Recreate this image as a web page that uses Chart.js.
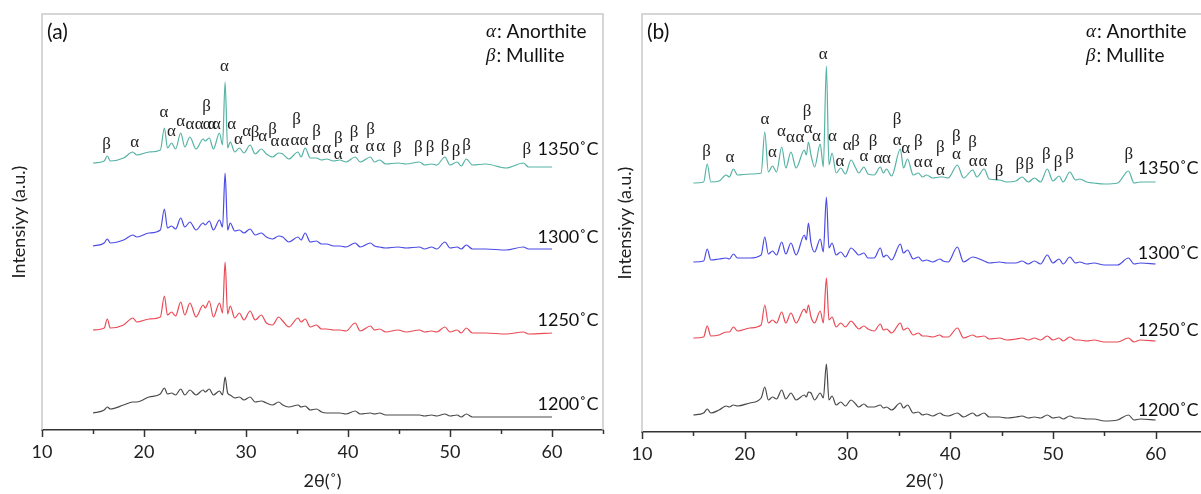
<!DOCTYPE html>
<html>
<head>
<meta charset="utf-8">
<script src="https://cdn.jsdelivr.net/npm/chart.js@4.4.1/dist/chart.umd.min.js"></script>
<style>
  html, body { margin: 0; padding: 0; background: #fff; overflow: hidden; }
  body { width: 1201px; height: 494px; position: relative; }
  canvas { position: absolute; top: 0; }
  #chartA { left: 0; }
  #chartB { left: 606px; }
</style>
</head>
<body>
<canvas id="chartA" width="614" height="494"></canvas>
<canvas id="chartB" width="612" height="494"></canvas>
<script>
// ---- data ----
const tempLabels = ["1350˚C", "1300˚C", "1250˚C", "1200˚C"];
const traceColors = ["#55b3a5", "#4b4be6", "#ea4a55", "#4a4a4a"];

// panel (a)
const thetaA = [15.0, 16.1, 16.4, 16.7, 18.0, 18.9, 19.3, 20.5, 21.6, 22.0,
  22.3, 22.7, 23.1, 23.6, 24.0, 24.5, 25.1, 25.8, 26.0, 26.4,
  26.8, 27.4, 27.7, 27.95, 28.2, 28.45, 28.9, 29.35, 29.8, 30.4,
  30.9, 31.5, 32.0, 32.6, 33.2, 33.6, 34.2, 35.1, 35.4, 35.8,
  36.3, 36.9, 37.4, 37.9, 38.6, 39.2, 39.8, 40.7, 41.2, 42.2,
  42.6, 43.1, 43.7, 44.9, 45.7, 47.0, 47.5, 48.2, 48.7, 49.5,
  50.0, 50.7, 51.1, 51.6, 52.2, 53.5, 55.5, 57.2, 57.7, 60.0];
const a1350 = [267, 269, 274, 269, 272, 278, 275, 278, 280, 302,
  282, 287, 281, 297, 283, 293, 281, 291, 289, 292,
  281, 297, 285, 348, 282, 288, 278, 282, 277, 285,
  276, 281, 276, 273, 277, 276, 271, 278, 273, 282,
  272, 272, 270, 271, 269, 270, 268, 273, 268, 273,
  268, 270, 266, 267, 266, 268, 265, 266, 265, 273,
  265, 268, 264, 271, 265, 266, 262, 267, 263, 263];
const a1300 = [184, 187, 191, 187, 190, 195, 193, 197, 200, 221,
  202, 204, 201, 212, 203, 208, 200, 207, 205, 209,
  200, 210, 203, 257, 200, 207, 199, 200, 197, 201,
  195, 197, 193, 191, 194, 193, 188, 193, 190, 197,
  188, 189, 186, 186, 184, 184, 183, 187, 183, 187,
  184, 183, 182, 183, 182, 183, 181, 183, 181, 188,
  182, 183, 181, 185, 181, 181, 180, 183, 181, 181];
const a1250 = [100, 102, 111, 102, 105, 112, 108, 111, 113, 134,
  115, 118, 114, 128, 115, 127, 113, 125, 122, 129,
  113, 127, 117, 168, 116, 124, 112, 117, 110, 119,
  110, 115, 107, 105, 113, 109, 103, 112, 108, 111,
  103, 105, 101, 101, 100, 100, 99, 107, 99, 104,
  100, 101, 98, 100, 98, 100, 98, 99, 98, 103,
  98, 100, 97, 102, 97, 97, 96, 98, 96, 97];
const a1200 = [17, 20, 23, 21, 25, 28, 28, 33, 36, 42,
  36, 37, 35, 41, 35, 40, 35, 40, 38, 41,
  35, 39, 35, 53, 37, 35, 32, 33, 30, 33,
  28, 29, 27, 25, 28, 25, 23, 25, 23, 24,
  20, 21, 18, 17, 17, 17, 16, 19, 16, 17,
  16, 17, 15, 15, 15, 15, 14, 15, 14, 16,
  14, 15, 13, 16, 13, 13, 13, 13, 13, 13];

// panel (b)
const thetaB = [15.0, 16.0, 16.35, 16.7, 17.5, 18.2, 18.5, 18.9, 19.3, 20.5,
  21.6, 21.95, 22.3, 22.7, 23.1, 23.6, 24.0, 24.5, 25.0, 25.8,
  26.0, 26.2, 26.45, 26.8, 27.35, 27.65, 27.95, 28.2, 28.5, 28.9,
  29.35, 29.8, 30.35, 30.8, 31.1, 31.6, 32.0, 32.6, 33.2, 33.5,
  33.8, 34.3, 35.15, 35.45, 35.85, 36.4, 36.9, 37.3, 37.7, 38.3,
  39.0, 39.3, 39.8, 40.7, 41.3, 42.2, 42.6, 43.3, 43.8, 44.8,
  45.5, 46.4, 47.0, 47.6, 48.2, 48.8, 49.45, 50.0, 50.6, 51.0,
  51.65, 52.2, 52.6, 53.3, 54.0, 55.0, 56.3, 57.35, 57.9, 58.5, 60.0];
const b1350 = [249, 250, 268, 250, 251, 257, 255, 263, 257, 258,
  259, 300, 260, 266, 260, 285, 264, 280, 264, 282,
  277, 290, 277, 265, 288, 265, 366, 267, 279, 259,
  264, 258, 272, 264, 259, 265, 258, 257, 265, 259,
  263, 256, 283, 264, 273, 257, 259, 255, 257, 254,
  255, 255, 254, 267, 254, 262, 255, 263, 253, 252,
  250, 251, 255, 250, 254, 250, 263, 251, 256, 250,
  260, 252, 253, 250, 249, 248, 249, 261, 249, 250, 250];
const b1300 = [170, 171, 183, 172, 173, 174, 173, 178, 174, 174,
  177, 195, 178, 181, 177, 190, 178, 189, 177, 197,
  192, 209, 189, 180, 193, 180, 235, 184, 189, 177,
  180, 175, 184, 180, 177, 179, 174, 174, 184, 175,
  177, 172, 188, 179, 182, 173, 175, 171, 172, 170,
  173, 171, 170, 185, 170, 175, 174, 171, 169, 170,
  169, 169, 171, 168, 171, 168, 177, 169, 173, 168,
  175, 169, 170, 168, 169, 167, 167, 174, 168, 169, 168];
const b1250 = [94, 95, 106, 96, 97, 100, 100, 105, 101, 104,
  107, 127, 109, 112, 109, 120, 109, 119, 109, 123,
  119, 127, 115, 109, 121, 109, 154, 112, 115, 105,
  109, 105, 111, 106, 103, 106, 103, 101, 108, 102,
  103, 99, 109, 102, 104, 97, 99, 96, 96, 95,
  97, 95, 95, 104, 94, 97, 95, 96, 93, 94,
  92, 93, 94, 92, 94, 92, 96, 92, 94, 91,
  95, 92, 92, 91, 92, 90, 90, 94, 90, 92, 91];
const b1200 = [17, 19, 23, 19, 22, 26, 25, 27, 26, 29,
  34, 45, 32, 35, 33, 42, 33, 39, 32, 37,
  35, 40, 39, 32, 39, 34, 68, 32, 36, 27,
  30, 26, 32, 28, 25, 28, 25, 25, 27, 24,
  25, 22, 29, 24, 27, 19, 20, 17, 18, 16,
  19, 17, 16, 19, 15, 19, 16, 19, 15, 15,
  14, 15, 16, 14, 15, 14, 17, 14, 15, 13,
  16, 14, 14, 13, 13, 11, 12, 17, 12, 13, 12];

// phase marks [2θ, height, symbol]
const marksA = [[16.34, 285, "β"], [19.1, 287, "α"], [21.96, 317, "α"], [22.7, 298, "α"],
  [23.6, 308, "α"], [24.5, 305, "α"], [25.4, 305, "α"], [26.2, 305, "α"], [26.65, 305, "α"], [27.1, 305, "α"],
  [26.14, 323, "β"], [27.88, 363, "α"], [28.6, 305, "α"], [29.25, 290, "α"], [30.07, 298, "α"],
  [30.88, 297, "β"], [31.63, 293, "α"], [32.6, 300, "β"], [32.84, 288, "α"], [33.82, 288, "α"],
  [34.97, 310, "β"], [34.8, 289, "α"], [35.69, 289, "α"], [36.93, 298, "β"], [36.9, 281, "α"],
  [37.9, 281, "α"], [39.05, 291, "β"], [39.05, 275, "α"], [40.59, 297, "β"], [40.6, 281, "α"],
  [42.22, 300, "β"], [42.16, 283, "α"], [43.2, 283, "α"], [44.84, 281, "β"], [46.9, 282, "β"],
  [48.04, 282, "β"], [49.51, 283, "β"], [50.59, 278, "β"], [51.63, 284, "β"], [57.52, 280, "β"]];
const marksB = [[16.29, 280, "β"], [18.56, 274, "α"], [21.96, 312, "α"], [22.71, 279, "α"],
  [23.58, 300, "α"], [24.46, 294, "α"], [25.37, 294, "α"], [26.08, 320, "β"], [26.18, 303, "α"],
  [26.99, 295, "α"], [27.64, 377, "α"], [28.55, 295, "α"], [29.26, 270, "α"], [29.97, 286, "α"],
  [30.78, 290, "β"], [31.6, 275, "α"], [32.5, 290, "β"], [32.99, 273, "α"], [33.8, 273, "α"],
  [34.84, 312, "β"], [34.84, 291, "α"], [35.68, 283, "α"], [36.9, 290, "β"], [36.88, 269, "α"],
  [37.85, 269, "α"], [39.05, 284, "β"], [39.05, 261, "α"], [40.6, 295, "β"], [40.6, 277, "α"],
  [42.17, 289, "β"], [42.23, 270, "α"], [43.2, 270, "α"], [44.76, 260, "β"], [46.77, 267, "β"],
  [47.74, 267, "β"], [49.36, 277, "β"], [50.5, 269, "β"], [51.63, 277, "β"], [57.4, 277, "β"]];

// where each temperature tag sits [2θ, height]
const tagPosA = [[58.58, 281], [58.58, 193], [58.58, 110], [58.58, 26]];
const tagPosB = [[58.25, 264], [58.25, 179], [58.25, 102], [58.25, 22]];

const SANS = "Lato, 'Open Sans', sans-serif";

function panelPlugin(cfg) {
  return {
    id: "panelDeco" + cfg.letter,
    afterDraw(chart) {
      const ctx = chart.ctx;
      const area = chart.chartArea;
      const xs = chart.scales.x;
      const ys = chart.scales.y;
      ctx.save();

      // light frame
      ctx.strokeStyle = "#c9c9c9";
      ctx.lineWidth = 1.5;
      ctx.beginPath();
      ctx.moveTo(area.left, area.bottom);
      ctx.lineTo(area.left, area.top);
      ctx.lineTo(area.right, area.top);
      ctx.lineTo(area.right, area.bottom);
      ctx.stroke();

      // tick marks, long every 10, short every 5
      ctx.strokeStyle = "#333";
      ctx.lineWidth = 1.5;
      xs.ticks.forEach(t => {
        const px = Math.round(xs.getPixelForValue(t.value)) + 0.5;
        const len = t.value % 10 === 0 ? 7 : 4;
        ctx.beginPath();
        ctx.moveTo(px, area.bottom);
        ctx.lineTo(px, area.bottom + len);
        ctx.stroke();
      });

      // phase marks
      ctx.fillStyle = "#222";
      ctx.font = "17px 'Liberation Serif', serif";
      ctx.textAlign = "center";
      ctx.textBaseline = "middle";
      cfg.marks.forEach(m => {
        ctx.fillText(m[2], xs.getPixelForValue(m[0]), ys.getPixelForValue(m[1]));
      });

      // temperature tags
      ctx.fillStyle = "#111";
      ctx.font = "18px " + SANS;
      ctx.textAlign = "left";
      cfg.tags.forEach((p, i) => {
        ctx.fillText(tempLabels[i], xs.getPixelForValue(p[0]), ys.getPixelForValue(p[1]));
      });

      // panel letter
      ctx.font = "21px " + SANS;
      ctx.fillText("(" + cfg.letter + ")", area.left + 5, 32);

      // phase key
      const kx = cfg.keyX;
      [["α", ": Anorthite", 32], ["β", ": Mullite", 56]].forEach(k => {
        ctx.font = "italic 19px 'Liberation Serif', serif";
        ctx.fillText(k[0], kx, k[2]);
        const w = ctx.measureText(k[0]).width;
        ctx.font = "19px " + SANS;
        ctx.fillText(k[1], kx + w + 1, k[2]);
      });
      ctx.restore();
    }
  };
}

function makePanel(id, cfg) {
  const datasets = cfg.series.map((ys, i) => ({
    label: tempLabels[i],
    data: ys.map((y, k) => ({ x: cfg.theta[k], y: y })),
    borderColor: traceColors[i],
    borderWidth: 1.2,
    pointRadius: 0,
    cubicInterpolationMode: "monotone",
    fill: false
  }));

  return new Chart(document.getElementById(id), {
    type: "line",
    data: { datasets },
    options: {
      responsive: false,
      animation: false,
      layout: { padding: { left: 0, top: 14, right: cfg.padRight, bottom: 0 } },
      plugins: { legend: { display: false }, tooltip: { enabled: false } },
      scales: {
        x: {
          type: "linear",
          min: 10,
          max: 65,
          afterFit: s => { s.height = cfg.axisH; },
          ticks: {
            stepSize: 5,
            autoSkip: false,
            maxRotation: 0,
            padding: 11,
            color: "#222",
            font: { family: SANS, size: 18 },
            callback: v => (v % 10 === 0 && v <= 60 ? v : "")
          },
          grid: { display: false, drawTicks: false },
          border: { display: true, color: "#333", width: 1.5 },
          title: {
            display: true,
            text: "2θ(˚)",
            color: "#222",
            font: { family: SANS, size: 18 },
            padding: { top: 0, bottom: 2 }
          }
        },
        y: {
          min: 0,
          max: cfg.yMax,
          afterFit: s => { s.width = cfg.yW; },
          ticks: { display: false },
          grid: { display: false, drawTicks: false },
          border: { display: false },
          title: {
            display: true,
            text: "Intensiyy (a.u.)",
            color: "#222",
            font: { family: SANS, size: 18 },
            padding: { top: 8, bottom: 0 }
          }
        }
      }
    },
    plugins: [panelPlugin(cfg)]
  });
}

makePanel("chartA", {
  letter: "a",
  theta: thetaA,
  series: [a1350, a1300, a1250, a1200],
  marks: marksA,
  tags: tagPosA,
  keyX: 486,
  yW: 42,
  padRight: 11,
  axisH: 64,
  yMax: 416
});

makePanel("chartB", {
  letter: "b",
  theta: thetaB,
  series: [b1350, b1300, b1250, b1200],
  marks: marksB,
  tags: tagPosB,
  keyX: 480,
  yW: 36,
  padRight: 11,
  axisH: 62,
  yMax: 418
});
</script>
</body>
</html>
